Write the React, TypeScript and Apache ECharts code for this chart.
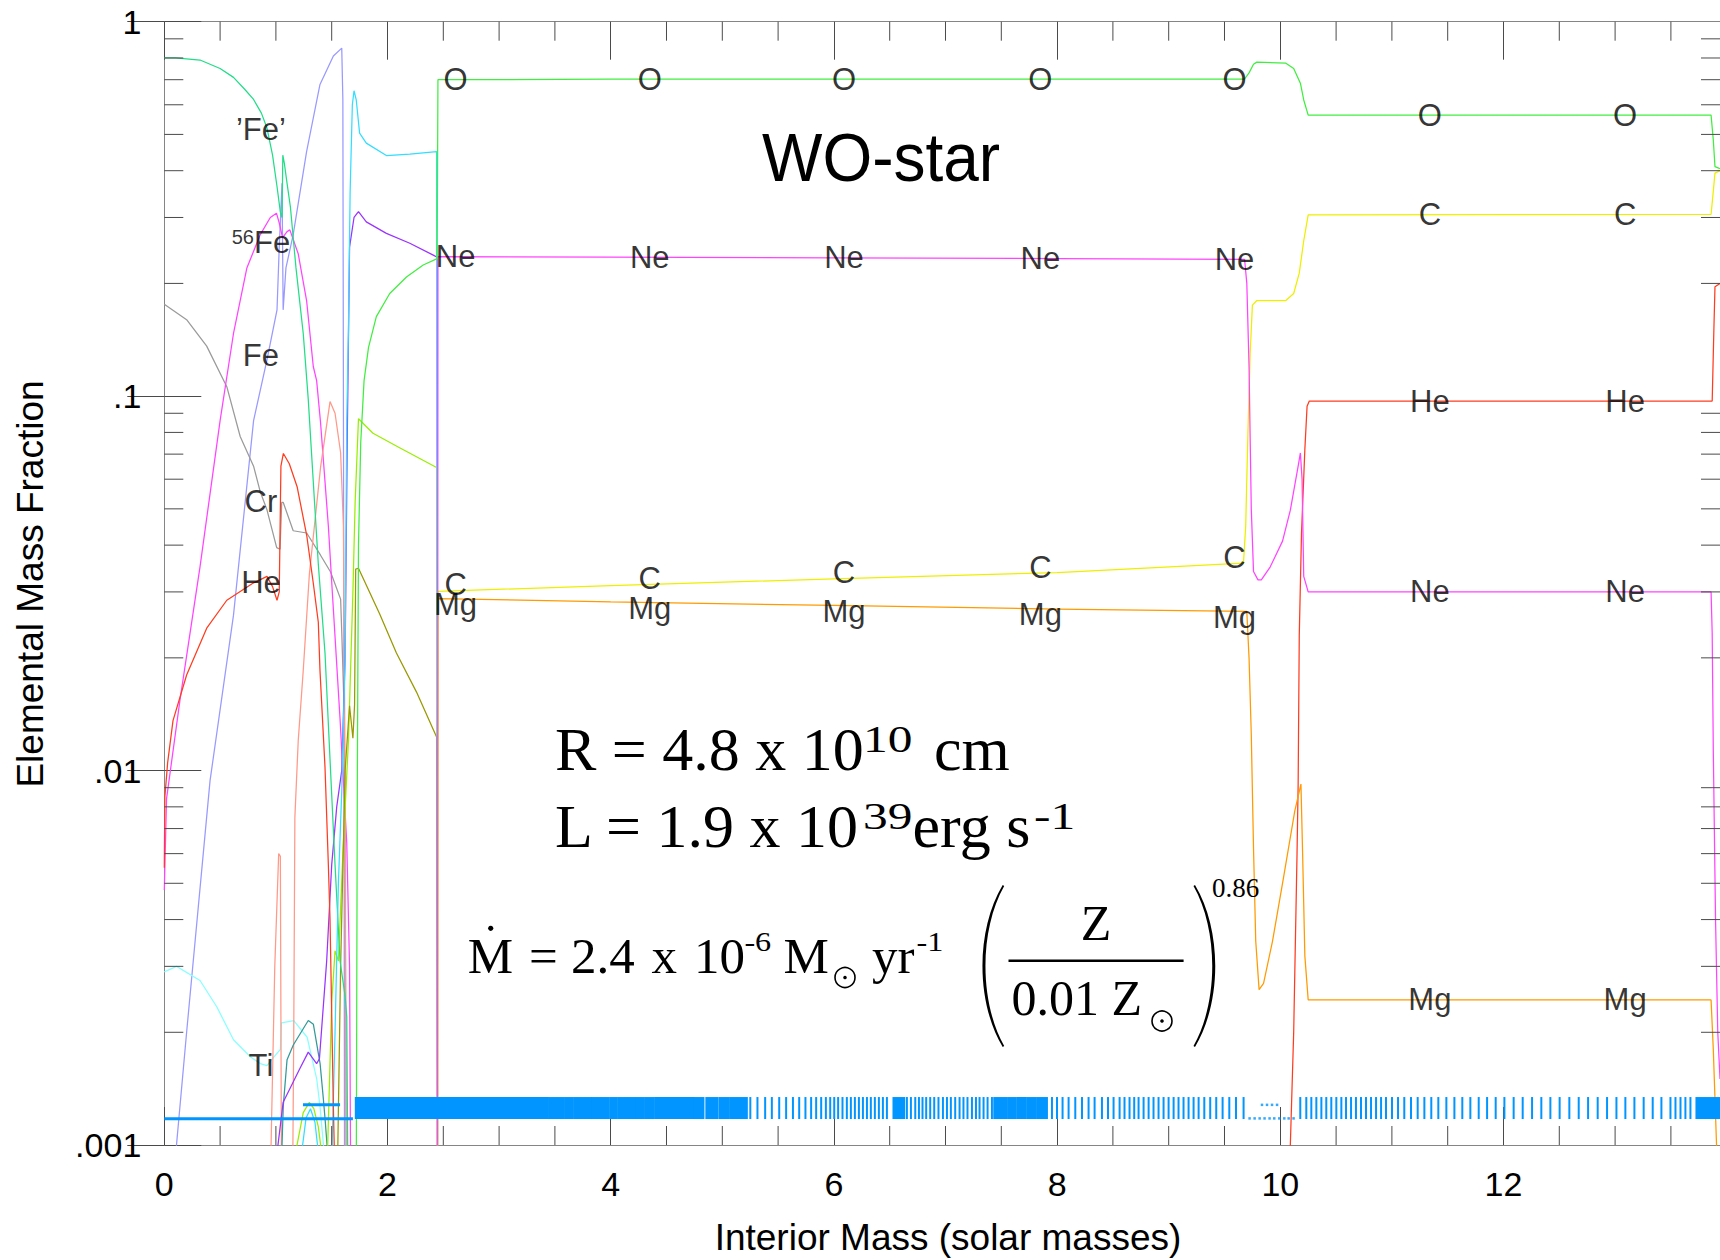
import React, { useEffect, useRef } from "react";
import * as echarts from "echarts";

type Pt = [number, number];

// ---------- axes ----------
const MASS_MIN = 0;
const MASS_MAX = 13.94;
const MASS_MAJOR_STEP = 2;
const MASS_MINOR_TICKS = [0.5, 1, 1.5, 2.5, 3, 3.5, 4.5, 5, 5.5, 6.5, 7, 7.5, 8.5, 9, 9.5, 10.5, 11, 11.5, 12.5, 13, 13.5];
const FRACTION_MIN = 0.001;
const FRACTION_MAX = 1;
const FRACTION_TICK_LABELS = [".001", ".01", ".1", "1"];
const FRACTION_MINOR_TICKS = [
  0.002, 0.003, 0.004, 0.005, 0.006, 0.007, 0.008, 0.009,
  0.02, 0.03, 0.04, 0.05, 0.06, 0.07, 0.08, 0.09,
  0.2, 0.3, 0.4, 0.5, 0.6, 0.7, 0.8, 0.9,
];

// ---------- abundance profiles: [interior mass, mass fraction], split into drawn segments ----------
const O_PROFILE: Pt[][] = [[
  [1.72, 0.0008], [1.73, 0.01], [1.74, 0.04], [1.76, 0.075], [1.79, 0.11], [1.83, 0.135], [1.9, 0.163],
  [2.02, 0.188], [2.17, 0.208], [2.32, 0.224], [2.445, 0.233], [2.452, 0.7], [4.0, 0.702], [6.0, 0.702],
  [8.0, 0.702], [9.68, 0.703], [9.72, 0.73], [9.76, 0.77], [9.79, 0.78], [10.05, 0.775], [10.12, 0.75],
  [10.18, 0.685], [10.21, 0.618], [10.25, 0.563], [13.86, 0.563], [13.88, 0.483], [13.895, 0.41], [13.94, 0.405],
]];

const NE_PROFILE: Pt[][] = [[
  [2.448, 0.0008], [2.452, 0.236], [4.0, 0.235], [6.0, 0.234], [8.0, 0.233], [9.68, 0.232], [9.7, 0.2],
  [9.72, 0.12], [9.74, 0.05], [9.76, 0.034], [9.8, 0.0323], [9.83, 0.0323], [9.91, 0.035], [10.02, 0.041],
  [10.09, 0.0496], [10.16, 0.065], [10.18, 0.0705], [10.195, 0.06], [10.21, 0.033], [10.25, 0.03],
  [13.86, 0.03], [13.87, 0.0233], [13.88, 0.0113], [13.9, 0.004], [13.92, 0.002], [13.94, 0.0015],
]];

const C_PROFILE: Pt[][] = [[
  [2.448, 0.0008], [2.452, 0.0301], [4.0, 0.0312], [6.0, 0.0325], [8.0, 0.0338], [9.67, 0.0358],
  [9.69, 0.045], [9.71, 0.08], [9.73, 0.13], [9.75, 0.175], [9.79, 0.18], [10.05, 0.18], [10.12, 0.188],
  [10.17, 0.213], [10.21, 0.26], [10.25, 0.305], [13.86, 0.306], [13.875, 0.34], [13.895, 0.394], [13.94, 0.4],
]];

const MG_PROFILE: Pt[][] = [[
  [2.448, 0.0008], [2.452, 0.0288], [4.0, 0.0282], [6.0, 0.0276], [8.0, 0.027], [9.7, 0.0266], [9.72, 0.02],
  [9.74, 0.0125], [9.76, 0.0062], [9.78, 0.0035], [9.81, 0.0026], [9.85, 0.0027], [9.93, 0.0035],
  [10.03, 0.0052], [10.13, 0.0078], [10.185, 0.0092], [10.2, 0.006], [10.22, 0.0032], [10.25, 0.00244],
  [13.86, 0.00244], [13.88, 0.0018], [13.9, 0.0012], [13.92, 0.0008],
]];

const HE_PROFILE: Pt[][] = [
  [
    [0, 0.0055], [0.005, 0.0085], [0.03, 0.0105], [0.078, 0.0136], [0.2, 0.018], [0.38, 0.024], [0.56, 0.0285],
    [0.79, 0.0316], [0.92, 0.033], [0.97, 0.031], [1.01, 0.0285], [1.03, 0.03], [1.045, 0.065], [1.067, 0.0703],
    [1.12, 0.066], [1.19, 0.0573], [1.276, 0.0425], [1.336, 0.0315], [1.38, 0.0249], [1.395, 0.0185],
    [1.44, 0.0102], [1.47, 0.0056], [1.485, 0.004], [1.515, 0.00126], [1.53, 0.0008],
  ],
  [
    [10.08, 0.0008], [10.09, 0.001], [10.12, 0.002], [10.15, 0.006], [10.16, 0.0092], [10.17, 0.023],
    [10.19, 0.043], [10.22, 0.072], [10.24, 0.094], [10.26, 0.097], [13.87, 0.097], [13.885, 0.15],
    [13.895, 0.196], [13.94, 0.2],
  ],
];

// iron-group total ('Fe')
const FE_GROUP_PROFILE: Pt[][] = [[
  [0, 0.8], [0.1, 0.8], [0.32, 0.79], [0.5, 0.75], [0.62, 0.71], [0.72, 0.66], [0.8, 0.62], [0.87, 0.57],
  [0.92, 0.52], [0.97, 0.44], [1.01, 0.363], [1.04, 0.31], [1.055, 0.3], [1.062, 0.44], [1.075, 0.42],
  [1.1, 0.37], [1.13, 0.32], [1.18, 0.22], [1.245, 0.147], [1.29, 0.098], [1.38, 0.0356], [1.44, 0.0206],
  [1.485, 0.0107], [1.53, 0.0056], [1.575, 0.0031], [1.62, 0.0025], [1.635, 0.0022], [1.645, 0.0008],
]];

const FE56_PROFILE: Pt[][] = [[
  [0, 0.0048], [0.02, 0.0084], [0.14, 0.0154], [0.32, 0.035], [0.5, 0.086], [0.62, 0.147], [0.74, 0.22],
  [0.86, 0.27], [0.95, 0.3], [1.005, 0.308], [1.03, 0.29], [1.06, 0.265], [1.1, 0.275], [1.125, 0.278],
  [1.2, 0.24], [1.275, 0.18], [1.335, 0.12], [1.365, 0.11], [1.4, 0.085], [1.47, 0.045], [1.51, 0.0285],
  [1.575, 0.0137], [1.635, 0.0064], [1.66, 0.003], [1.67, 0.0008],
]];

const SI_PROFILE: Pt[][] = [[
  [0.08, 0.0008], [0.2, 0.002], [0.41, 0.0094], [0.62, 0.026], [0.8, 0.086], [0.92, 0.125], [1.01, 0.17],
  [1.03, 0.25], [1.055, 0.37], [1.065, 0.17], [1.09, 0.22], [1.155, 0.27], [1.275, 0.45], [1.395, 0.68],
  [1.515, 0.81], [1.59, 0.85], [1.6, 0.62], [1.605, 0.1], [1.612, 0.005], [1.615, 0.0008],
]];

const CR_PROFILE: Pt[][] = [[
  [0, 0.176], [0.2, 0.16], [0.38, 0.136], [0.56, 0.106], [0.68, 0.078], [0.8, 0.065], [0.86, 0.0555],
  [0.92, 0.0497], [1.007, 0.0394], [1.037, 0.039], [1.052, 0.052], [1.066, 0.052], [1.155, 0.0437],
  [1.276, 0.0431], [1.4, 0.0376], [1.49, 0.0339], [1.58, 0.0287], [1.59, 0.0235], [1.61, 0.015],
  [1.62, 0.006], [1.63, 0.0008],
]];

const TI_PROFILE: Pt[][] = [[
  [0, 0.0029], [0.11, 0.003], [0.32, 0.00275], [0.47, 0.00234], [0.62, 0.00191], [0.77, 0.00172],
  [0.86, 0.00165], [0.92, 0.00163], [0.97, 0.0017], [1.04, 0.0018], [1.05, 0.00212], [1.16, 0.00215],
  [1.28, 0.00194], [1.366, 0.0015], [1.395, 0.00127], [1.44, 0.0009],
]];

const S_PROFILE: Pt[][] = [
  [
    [1.5, 0.0009], [1.53, 0.002], [1.56, 0.005], [1.59, 0.0088], [1.62, 0.02], [1.635, 0.086], [1.65, 0.15],
    [1.665, 0.35], [1.685, 0.6], [1.7, 0.654], [1.72, 0.618], [1.75, 0.504], [1.81, 0.474], [1.99, 0.439],
    [2.2, 0.443], [2.44, 0.45], [2.448, 0.0008],
  ],
  [[1.22, 0.0009], [1.27, 0.00118], [1.31, 0.00125], [1.35, 0.00115], [1.39, 0.0009]],
];

const AR_PROFILE: Pt[][] = [[
  [1.0, 0.0009], [1.065, 0.0013], [1.215, 0.0016], [1.29, 0.00177], [1.365, 0.00165], [1.39, 0.0017],
  [1.455, 0.0031], [1.5, 0.0056], [1.545, 0.008], [1.59, 0.01], [1.62, 0.02], [1.64, 0.08], [1.66, 0.25],
  [1.7, 0.3], [1.74, 0.311], [1.81, 0.292], [1.99, 0.272], [2.2, 0.256], [2.41, 0.238], [2.445, 0.235],
  [2.448, 0.0008],
]];

const CA_PROFILE: Pt[][] = [
  [[1.16, 0.0009], [1.245, 0.00122], [1.3, 0.0013], [1.34, 0.00125], [1.38, 0.00112], [1.42, 0.0009]],
  [
    [1.46, 0.0009], [1.5, 0.0024], [1.53, 0.0033], [1.56, 0.0031], [1.6, 0.006], [1.65, 0.012], [1.69, 0.03],
    [1.71, 0.052], [1.74, 0.087], [1.87, 0.0796], [2.1, 0.073], [2.44, 0.0645], [2.448, 0.0008],
  ],
];

const K_PROFILE: Pt[][] = [[
  [1.55, 0.0008], [1.58, 0.003], [1.62, 0.01], [1.66, 0.0149], [1.69, 0.0122], [1.705, 0.015],
  [1.715, 0.0345], [1.74, 0.0347], [1.93, 0.0262], [2.08, 0.0206], [2.26, 0.0162], [2.44, 0.0123],
  [2.448, 0.0008],
]];

const NI_PROFILE: Pt[][] = [
  [[0.95, 0.0008], [0.99, 0.003], [1.025, 0.006], [1.04, 0.0059], [1.05, 0.0008]],
  [
    [1.15, 0.0008], [1.16, 0.002], [1.17, 0.0075], [1.2, 0.012], [1.245, 0.0185], [1.3, 0.0335],
    [1.4, 0.0645], [1.485, 0.0967], [1.53, 0.09], [1.58, 0.0706], [1.605, 0.045], [1.62, 0.01], [1.63, 0.0008],
  ],
];

const V_PROFILE: Pt[][] = [[
  [1.05, 0.0009], [1.066, 0.00127], [1.1, 0.00169], [1.156, 0.00185], [1.29, 0.00215], [1.336, 0.0021],
  [1.396, 0.00165], [1.425, 0.00133], [1.44, 0.00118], [1.47, 0.0009],
]];

// ---------- zoning marks along the bottom ----------
const ZONE_BLOCKS: Pt[] = [
  [1.716, 3.436], [3.448, 3.576], [3.591, 3.661], [3.675, 3.825], [3.836, 3.905], [3.92, 3.98], [3.995, 4.055],
  [4.069, 4.174], [4.189, 4.219], [4.234, 4.293], [4.308, 4.383], [4.398, 4.741], [4.755, 4.831],
  [4.857, 4.957], [4.975, 5.055], [5.07, 5.22], [6.534, 6.63], [7.437, 7.55], [7.565, 7.63], [7.645, 7.72],
  [7.735, 7.81], [7.825, 7.865], [7.88, 7.909], [13.729, 13.94],
];
const ZONE_LINES = [
  5.251, 5.315, 5.384, 5.444, 5.51, 5.572, 5.633, 5.689, 5.745, 5.796, 5.841, 5.886, 5.928, 5.967, 6.003,
  6.038, 6.077, 6.116, 6.152, 6.188, 6.224, 6.26, 6.296, 6.331, 6.367, 6.403, 6.439, 6.475, 6.654, 6.69,
  6.729, 6.762, 6.794, 6.827, 6.863, 6.899, 6.937, 6.977, 7.013, 7.048, 7.087, 7.126, 7.161, 7.197, 7.237,
  7.273, 7.305, 7.341, 7.377, 7.416, 7.954, 7.999, 8.049, 8.103, 8.163, 8.223, 8.282, 8.336, 8.402, 8.456,
  8.506, 8.56, 8.604, 8.649, 8.691, 8.73, 8.775, 8.82, 8.864, 8.909, 8.954, 8.999, 9.044, 9.088, 9.133,
  9.178, 9.223, 9.268, 9.319, 9.372, 9.426, 9.483, 9.543, 9.603, 9.671, 10.179, 10.233, 10.278, 10.323,
  10.368, 10.412, 10.457, 10.502, 10.547, 10.589, 10.634, 10.678, 10.723, 10.768, 10.813, 10.858, 10.903,
  10.947, 11.001, 11.055, 11.111, 11.171, 11.231, 11.291, 11.353, 11.416, 11.488, 11.56, 11.631, 11.703,
  11.778, 11.853, 11.93, 12.008, 12.091, 12.172, 12.256, 12.339, 12.42, 12.503, 12.59, 12.674, 12.758,
  12.844, 12.928, 13.012, 13.092, 13.173, 13.256, 13.337, 13.415, 13.496, 13.541, 13.586, 13.63, 13.675,
];
const ZONE_DOTS_LOW = [9.725, 9.77, 9.815, 9.859, 9.904, 9.946, 9.991, 10.036, 10.075, 10.119];
const ZONE_DOTS_MID = [9.836, 9.881, 9.926, 9.971];
const CORE_ZONE_LINE: Pt[] = [[0, 0.001175], [1.69, 0.001175]];
const CORE_ZONE_SHORT: Pt[] = [[1.243, 0.00128], [1.575, 0.00128]];

// ---------- element labels ----------
const SHELL_LABEL_MASS = [2.61, 4.35, 6.09, 7.85, 9.59];
const ENVELOPE_LABEL_MASS = [11.34, 13.09];
const CORE_LABEL_TEXT = ["\u2019Fe\u2019", "{sup|56}Fe", "Fe", "Cr", "He", "Ti"];
const CORE_LABEL_MASS = [0.866, 0.866, 0.866, 0.866, 0.866, 0.866];
const CORE_LABEL_FRACTION = [0.514, 0.258, 0.128, 0.0524, 0.0317, 0.00163];

// ---------- styling ----------
const SANS = '"Liberation Sans", Arial, Helvetica, sans-serif';
const SERIF = '"Liberation Serif", "Times New Roman", serif';
const AXIS_COLOR = "#858585";
const TICK_COLOR = "#4a4a4a";
const ZONE_BLUE = "#0095ff";
const ZONE_TOP = 0.001343;
const ZONE_BOTTOM = 0.001173;
const MAJOR_TICK_LEN = 38;
const MINOR_TICK_LEN = 19;
const SHELL_LABEL_NUDGE: Record<string, number> = { C: -6, Mg: 6 };

const CURVES = [
  { color: "#9999ff", segments: SI_PROFILE },
  { color: "#9a9a9a", segments: CR_PROFILE },
  { color: "#ff44ff", segments: FE56_PROFILE },
  { color: "#88ffff", segments: TI_PROFILE },
  { color: "#ff9988", segments: NI_PROFILE },
  { color: "#339999", segments: V_PROFILE },
  { color: "#9933ff", segments: AR_PROFILE },
  { color: "#99ee00", segments: CA_PROFILE },
  { color: "#999900", segments: K_PROFILE },
  { color: "#22dd88", segments: FE_GROUP_PROFILE },
  { color: "#33ddff", segments: S_PROFILE },
  { color: "#ff3c1e", segments: HE_PROFILE },
  { color: "#ff9a00", segments: MG_PROFILE },
  { color: "#eeee00", segments: C_PROFILE },
  { color: "#ff44ff", segments: NE_PROFILE },
  { color: "#40ee40", segments: O_PROFILE },
];

// log-linear reading of a profile at a given mass, used to seat labels on their lines
function fractionAt(segments: Pt[][], m: number): number {
  for (const seg of segments) {
    for (let i = 0; i < seg.length - 1; i++) {
      const [x0, y0] = seg[i];
      const [x1, y1] = seg[i + 1];
      if (m >= x0 && m <= x1 && x1 > x0) {
        const t = (m - x0) / (x1 - x0);
        return Math.pow(10, Math.log10(y0) + t * (Math.log10(y1) - Math.log10(y0)));
      }
    }
  }
  return NaN;
}

const LPAREN = "M20 0 C-7 45 -7 117 20 162 L21.5 161 C-3.5 117 -3.5 45 21.5 1 Z";
const RPAREN = "M0 0 C27 45 27 117 0 162 L-1.5 161 C23.5 117 23.5 45 -1.5 1 Z";
echarts.graphic.registerShape("lparen", echarts.graphic.extendPath(LPAREN, {}));
echarts.graphic.registerShape("rparen", echarts.graphic.extendPath(RPAREN, {}));

function txt(text: string, x: number, y: number, size: number, family: string, align = "left", extra: any = {}) {
  return {
    type: "text",
    x,
    y,
    z: 30,
    silent: true,
    ...extra,
    style: { text, fontFamily: family, fontSize: size, fill: "#000", align, verticalAlign: "middle" },
  };
}

// solar symbol: ring with a centre dot
function sun(cx: number, cy: number, r: number) {
  return [
    { type: "circle", shape: { cx, cy, r }, style: { fill: "none", stroke: "#000", lineWidth: 1.6 }, z: 30, silent: true },
    { type: "circle", shape: { cx, cy, r: 1.8 }, style: { fill: "#000" }, z: 30, silent: true },
  ];
}

function buildOption() {
  const series: any[] = [];

  CURVES.forEach((c) => {
    c.segments.forEach((seg) => {
      series.push({
        type: "line",
        data: seg,
        showSymbol: false,
        symbol: "none",
        silent: true,
        clip: true,
        lineStyle: { color: c.color, width: 1.25 },
        z: 3,
      });
    });
  });

  // zoning marks
  const zoneItems = [...ZONE_BLOCKS, ...ZONE_LINES.map((m) => [m, m] as Pt)];
  series.push({
    type: "custom",
    coordinateSystem: "cartesian2d",
    data: zoneItems,
    encode: { x: [0, 1] },
    silent: true,
    clip: true,
    z: 4,
    renderItem: (_p: any, api: any) => {
      const a = api.coord([api.value(0), ZONE_TOP]);
      const b = api.coord([api.value(1), ZONE_BOTTOM]);
      return {
        type: "rect",
        shape: { x: a[0] - 1, y: a[1], width: Math.max(b[0] - a[0], 0) + 2, height: b[1] - a[1] },
        style: { fill: ZONE_BLUE },
      };
    },
  });
  series.push({
    type: "scatter",
    data: [
      ...ZONE_DOTS_LOW.map((m) => [m, ZONE_BOTTOM * 1.004]),
      ...ZONE_DOTS_MID.map((m) => [m, 0.00128]),
    ],
    symbol: "rect",
    symbolSize: 2.5,
    itemStyle: { color: ZONE_BLUE },
    silent: true,
    z: 4,
  });
  [CORE_ZONE_LINE, CORE_ZONE_SHORT].forEach((seg) => {
    series.push({
      type: "line",
      data: seg,
      showSymbol: false,
      symbol: "none",
      silent: true,
      lineStyle: { color: ZONE_BLUE, width: 3 },
      z: 4,
    });
  });

  // minor ticks (log fraction axis, both sides)
  series.push({
    type: "custom",
    coordinateSystem: "cartesian2d",
    data: FRACTION_MINOR_TICKS.map((v) => [MASS_MIN, v]),
    silent: true,
    clip: false,
    z: 6,
    renderItem: (_p: any, api: any) => {
      const v = api.value(1);
      const l = api.coord([MASS_MIN, v]);
      const r = api.coord([MASS_MAX, v]);
      return {
        type: "group",
        children: [
          { type: "line", shape: { x1: l[0], y1: l[1], x2: l[0] + MINOR_TICK_LEN, y2: l[1] }, style: { stroke: TICK_COLOR, lineWidth: 1 } },
          { type: "line", shape: { x1: r[0], y1: r[1], x2: r[0] - MINOR_TICK_LEN, y2: r[1] }, style: { stroke: TICK_COLOR, lineWidth: 1 } },
        ],
      };
    },
  });
  // minor ticks (mass axis, bottom and top)
  series.push({
    type: "custom",
    coordinateSystem: "cartesian2d",
    data: MASS_MINOR_TICKS.map((m) => [m, FRACTION_MIN]),
    silent: true,
    clip: false,
    z: 6,
    renderItem: (_p: any, api: any) => {
      const m = api.value(0);
      const b = api.coord([m, FRACTION_MIN]);
      const t = api.coord([m, FRACTION_MAX]);
      return {
        type: "group",
        children: [
          { type: "line", shape: { x1: b[0], y1: b[1], x2: b[0], y2: b[1] - MINOR_TICK_LEN }, style: { stroke: TICK_COLOR, lineWidth: 1 } },
          { type: "line", shape: { x1: t[0], y1: t[1], x2: t[0], y2: t[1] + MINOR_TICK_LEN }, style: { stroke: TICK_COLOR, lineWidth: 1 } },
        ],
      };
    },
  });

  // element labels
  const labelData: any[] = [];
  const shellSets: [string, Pt[][]][] = [["O", O_PROFILE], ["Ne", NE_PROFILE], ["C", C_PROFILE], ["Mg", MG_PROFILE]];
  shellSets.forEach(([name, prof]) => {
    SHELL_LABEL_MASS.forEach((m) =>
      labelData.push({ name, value: [m, fractionAt(prof, m)], label: { offset: [0, SHELL_LABEL_NUDGE[name] ?? 0] } })
    );
  });
  const envSets: [string, Pt[][]][] = [["O", O_PROFILE], ["C", C_PROFILE], ["He", HE_PROFILE], ["Ne", NE_PROFILE], ["Mg", MG_PROFILE]];
  envSets.forEach(([name, prof]) => {
    ENVELOPE_LABEL_MASS.forEach((m) => labelData.push({ name, value: [m, fractionAt(prof, m)] }));
  });
  CORE_LABEL_TEXT.forEach((t, i) =>
    labelData.push({
      name: t,
      value: [CORE_LABEL_MASS[i], CORE_LABEL_FRACTION[i]],
      label: t.includes("{sup|") ? { lineHeight: 31 } : undefined,
    })
  );

  series.push({
    type: "scatter",
    data: labelData,
    symbolSize: 1,
    itemStyle: { color: "rgba(0,0,0,0)" },
    silent: true,
    z: 20,
    label: {
      show: true,
      position: "inside",
      formatter: (p: any) => p.name,
      fontFamily: SANS,
      fontSize: 31,
      lineHeight: 24,
      color: "#000",
      rich: {
        sup: { fontFamily: SANS, fontSize: 20, lineHeight: 4, verticalAlign: "top", color: "#000" },
      },
    },
    emphasis: { disabled: true },
  });

  const axisLine = { show: true, lineStyle: { color: AXIS_COLOR, width: 1 } };
  const majorTick = { show: true, inside: true, length: MAJOR_TICK_LEN, lineStyle: { color: TICK_COLOR, width: 1 } };
  const fractionLabel = (v: number) => {
    const e = Math.round(Math.log10(v));
    return FRACTION_TICK_LABELS[e + 3] ?? "";
  };

  const SUP_WIDE = { scaleX: 1.3 };
  const MD = 956.1;
  const graphic: any[] = [
    txt("WO-star", 762, 157, 64, SANS, "left", { scaleY: 1.08 }),
    txt("Interior Mass (solar masses)", 948, 1237, 37, SANS, "center"),
    txt("Elemental Mass Fraction", 30, 584, 37, SANS, "center", { rotation: Math.PI / 2 }),

    txt("R = 4.8 x 10", 555, 749.1, 62, SERIF),
    txt("10", 863, 739, 38, SERIF, "left", SUP_WIDE),
    txt("cm", 934, 749.1, 62, SERIF),

    txt("L = 1.9 x 10", 555, 825.8, 62, SERIF),
    txt("39", 863, 816, 38, SERIF, "left", SUP_WIDE),
    txt("erg s", 912.6, 825.8, 62, SERIF),
    txt("-1", 1034, 816, 38, SERIF, "left", SUP_WIDE),

    txt("M", 467.7, MD, 51, SERIF),
    { type: "circle", shape: { cx: 490.7, cy: 928.3, r: 2.6 }, style: { fill: "#000" }, z: 30, silent: true },
    txt("=", 529, MD, 51, SERIF),
    txt("2.4", 571, MD, 51, SERIF),
    txt("x", 651.6, MD, 51, SERIF),
    txt("10", 694, MD, 51, SERIF),
    txt("-6", 744.4, 941.6, 28, SERIF, "left", { scaleX: 1.15 }),
    txt("M", 783.5, MD, 51, SERIF),
    ...sun(845, 977.5, 10),
    txt("yr", 871.9, MD, 51, SERIF),
    txt("-1", 916.6, 941.6, 28, SERIF, "left", { scaleX: 1.15 }),

    { type: "lparen", x: 982.7, y: 885, style: { fill: "#000" }, z: 30, silent: true },
    { type: "rparen", x: 1195, y: 885, style: { fill: "#000" }, z: 30, silent: true },
    txt("Z", 1096, 923.1, 50, SERIF, "center"),
    { type: "line", shape: { x1: 1008.5, y1: 960.7, x2: 1183.6, y2: 960.7 }, style: { stroke: "#000", lineWidth: 2.5 }, z: 30, silent: true },
    txt("0.01 Z", 1011.4, 998.1, 50, SERIF),
    ...sun(1162, 1021, 10),
    txt("0.86", 1212, 887.6, 27, SERIF),
  ];

  return {
    animation: false,
    backgroundColor: "#ffffff",
    grid: { left: 164.3, top: 21.7, right: 0, bottom: 115, outerBoundsMode: "none" },
    xAxis: [
      {
        type: "value",
        min: MASS_MIN,
        max: MASS_MAX,
        interval: MASS_MAJOR_STEP,
        position: "bottom",
        axisLine,
        axisTick: majorTick,
        splitLine: { show: false },
        axisLabel: {
          show: true,
          margin: 22,
          fontFamily: SANS,
          fontSize: 34,
          color: "#000",
          showMaxLabel: false,
          formatter: (v: number) => String(v),
        },
      },
      {
        type: "value",
        min: MASS_MIN,
        max: MASS_MAX,
        interval: MASS_MAJOR_STEP,
        position: "top",
        axisLine,
        axisTick: majorTick,
        splitLine: { show: false },
        axisLabel: { show: false },
      },
    ],
    yAxis: [
      {
        type: "log",
        logBase: 10,
        min: FRACTION_MIN,
        max: FRACTION_MAX,
        position: "left",
        axisLine,
        axisTick: { ...majorTick, length: 37 },
        splitLine: { show: false },
        axisLabel: { show: true, margin: 23, fontFamily: SANS, fontSize: 34, color: "#000", formatter: fractionLabel },
      },
      {
        type: "log",
        logBase: 10,
        min: FRACTION_MIN,
        max: FRACTION_MAX,
        position: "right",
        axisLine,
        axisTick: { ...majorTick, length: 37 },
        splitLine: { show: false },
        axisLabel: { show: false },
      },
    ],
    series,
    graphic,
  };
}

export default function App() {
  const ref = useRef<HTMLDivElement>(null);
  useEffect(() => {
    if (!ref.current) return;
    const chart = echarts.init(ref.current, null, { renderer: "svg" });
    chart.setOption(buildOption() as any);
    return () => chart.dispose();
  }, []);
  return (
    <div
      ref={ref}
      style={{ position: "absolute", left: 0, top: 0, width: 1720, height: 1260, background: "#fff" }}
    />
  );
}
